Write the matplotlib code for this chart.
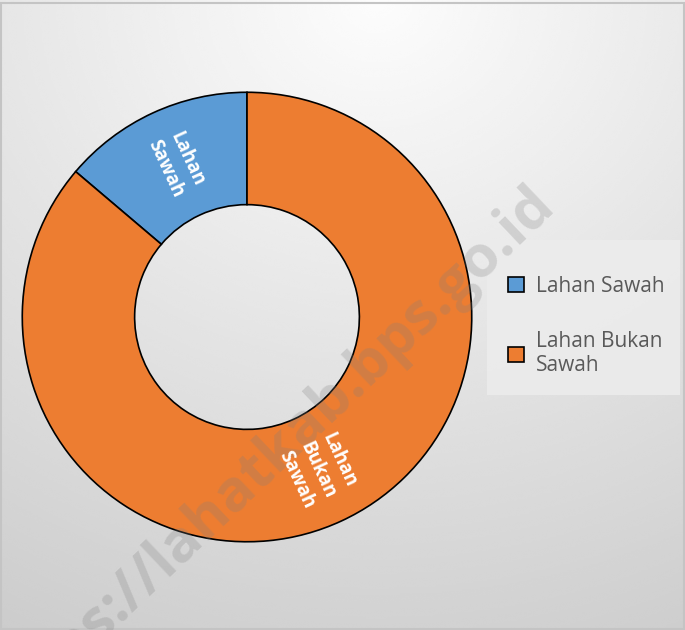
import matplotlib.pyplot as plt
import numpy as np
from matplotlib.patches import Rectangle

plt.rcParams['font.family'] = ['Open Sans', 'DejaVu Sans']

# data
categories = ['Lahan Sawah', 'Lahan Bukan Sawah']
legend_labels = ['Lahan Sawah', 'Lahan Bukan\nSawah']
slice_labels = ['Lahan\nSawah', 'Lahan\nBukan\nSawah']
shares = [13.8, 86.2]
colors = ['#5B9BD5', '#ED7D31']

fig = plt.figure(figsize=(6.85, 6.3), dpi=100)

# radial grey background like the office chart style
bg = fig.add_axes([0, 0, 1, 1], zorder=-10)
yy, xx = np.mgrid[0:1:300j, 0:1:300j]
d = np.sqrt(((xx - 0.55) * 1.0) ** 2 + ((yy - 0.0) * 1.05) ** 2)
shade = np.clip(0.99 - 0.16 * d, 0.80, 1.0)
bg.imshow(shade, cmap='gray', vmin=0, vmax=1, extent=[0, 1, 0, 1],
          origin='upper', aspect='auto', interpolation='bicubic')
bg.add_patch(Rectangle((0.002, 0.002), 0.996, 0.993, fill=False,
                       edgecolor='#c4c4c4', lw=1.5, transform=bg.transAxes))
# legend panel
bg.add_patch(Rectangle((0.711, 0.373), 0.282, 0.246, facecolor='#ececec',
                       edgecolor='none', alpha=0.9, transform=bg.transAxes))
bg.axis('off')

ax = fig.add_axes([0.0292, 0.1365, 0.6628, 0.7206])
wedges, texts = ax.pie(shares, colors=colors, startangle=90, counterclock=True,
                       labels=slice_labels, labeldistance=0.75, rotatelabels=True,
                       wedgeprops=dict(width=0.5, edgecolor='black', linewidth=1.2),
                       textprops=dict(color='white', fontsize=13.5, fontweight='bold',
                                      ha='center', va='center', multialignment='center'))
ax.set_xlim(-1.01, 1.01)
ax.set_ylim(-1.01, 1.01)
ax.set_aspect('equal')
ax.axis('off')

# watermark, over the wedges but under the slice labels
ax.text(0.797, 0.69, 'https://lahatkab.bps.go.id', transform=fig.transFigure,
        fontsize=42, fontweight='bold', color='#7f7f7f', alpha=0.25,
        rotation=43.5, rotation_mode='anchor', ha='right', va='center',
        zorder=2.5, clip_on=False)

leg = fig.legend(wedges, legend_labels, loc='center left',
                 bbox_to_anchor=(0.7416, 0.4825), fontsize=15, frameon=False,
                 handlelength=0.75, handleheight=0.75, labelspacing=1.65,
                 borderpad=0, handletextpad=0.6, borderaxespad=0)
for t in leg.get_texts():
    t.set_color('#595959')
for h in leg.legend_handles:
    h.set_edgecolor('black')
    h.set_linewidth(1.2)

fig.savefig('out.png', dpi=100)
